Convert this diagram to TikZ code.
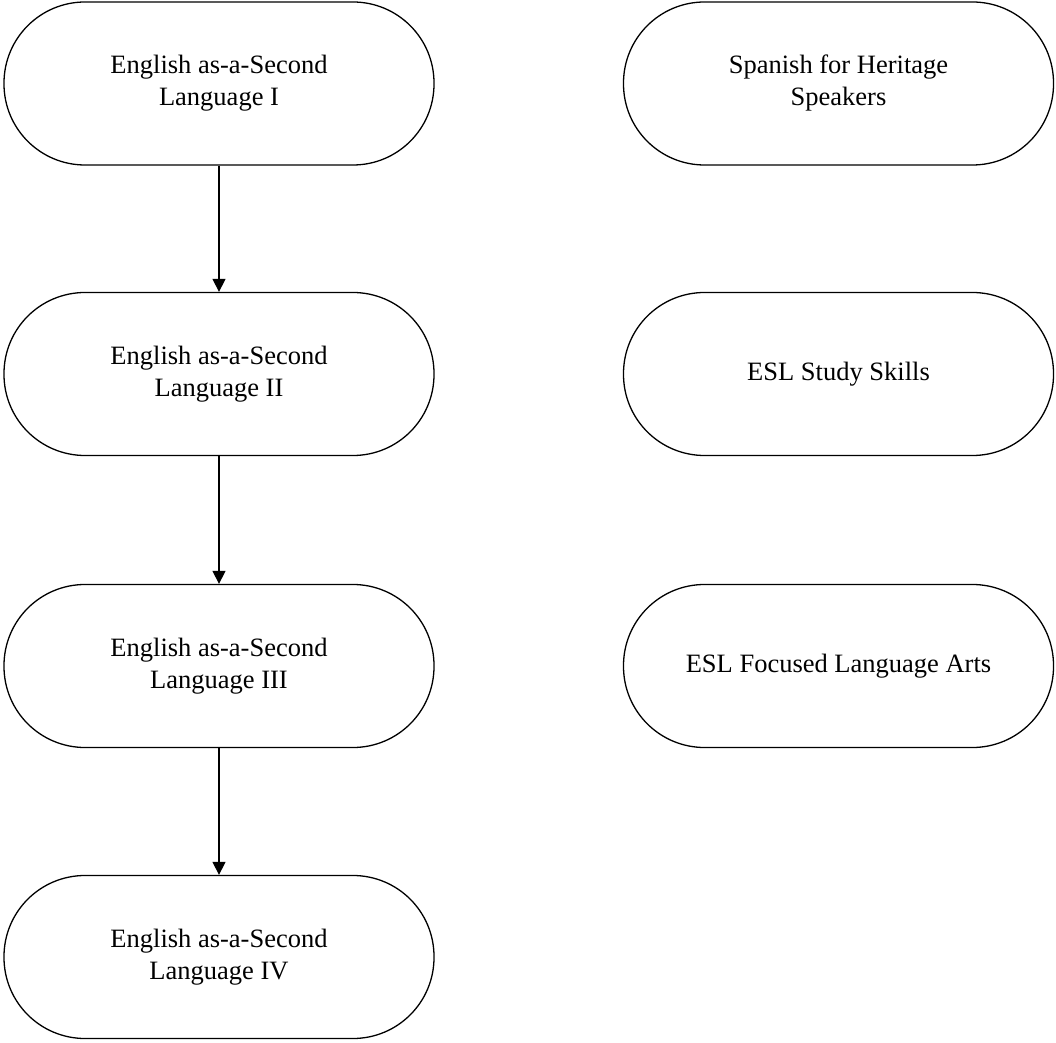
\documentclass[tikz,border=0pt]{standalone}
\usepackage{fontspec}
\setmainfont{Liberation Serif}
\usetikzlibrary{arrows.meta}
\begin{document}
\begin{tikzpicture}[x=1pt,y=1pt,
  pill/.style={draw=black, line width=1.3pt, rounded corners=81pt,
    minimum width=430pt, minimum height=163pt, align=center,
    font=\fontsize{26.5}{32}\selectfont, inner sep=0pt},
  flow/.style={line width=1.3pt, -{Triangle[width=13pt,length=13pt]}}]
\useasboundingbox (0,0) rectangle (1056,1042);
\node[pill] (e1) at (219,1042-83.5) {English as-a-Second\\Language I};
\node[pill] (e2) at (219,1042-374) {English as-a-Second\\Language II};
\node[pill] (e3) at (219,1042-666) {English as-a-Second\\Language III};
\node[pill] (e4) at (219,1042-957) {English as-a-Second\\Language IV};
\node[pill] (s1) at (838.5,1042-83.5) {Spanish for Heritage\\Speakers};
\node[pill] (s2) at (838.5,1042-374) {ESL Study Skills};
\node[pill] (s3) at (838.5,1042-666) {ESL Focused Language Arts};
\draw[flow] (e1) -- (e2);
\draw[flow] (e2) -- (e3);
\draw[flow] (e3) -- (e4);
\end{tikzpicture}
\end{document}
